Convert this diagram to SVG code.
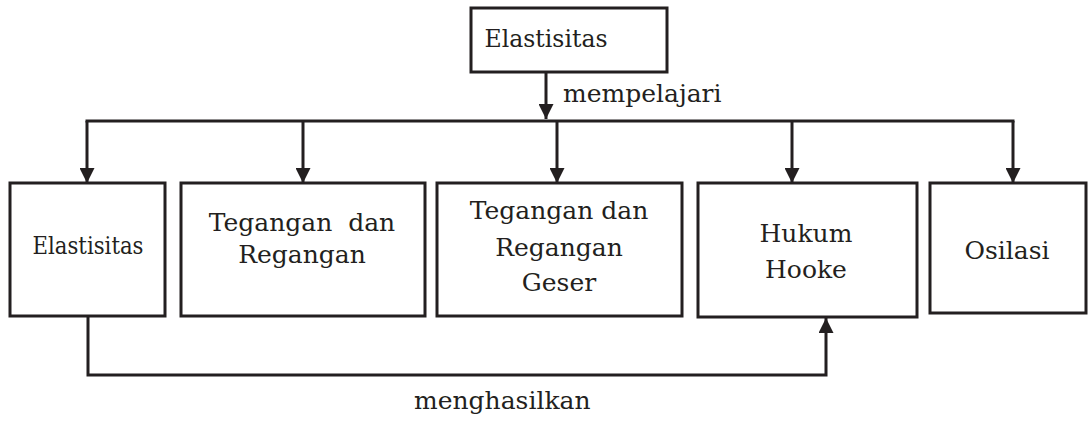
<svg xmlns="http://www.w3.org/2000/svg" width="1088" height="421" viewBox="0 0 1088 421">
<defs>
<style>
.box{fill:#fff;stroke:#231f20;stroke-width:3}
.ln{fill:none;stroke:#231f20;stroke-width:3}
.t{font-family:"DejaVu Serif","Liberation Serif",serif;font-size:25px;fill:#231f20;text-anchor:middle}
.lbl{font-family:"DejaVu Serif","Liberation Serif",serif;font-size:25px;fill:#231f20}
</style>
<marker id="ah" viewBox="0 0 10 10" refX="10" refY="5" markerWidth="5" markerHeight="5" markerUnits="strokeWidth" orient="auto">
<path d="M0,0 L10,5 L0,10 z" fill="#231f20"/>
</marker>
</defs>
<g id="connectors">
<line class="ln" x1="546" y1="72" x2="546" y2="119" marker-end="url(#ah)"/>
<line class="ln" x1="85.5" y1="121" x2="1014.5" y2="121"/>
<line class="ln" x1="87" y1="121" x2="87" y2="183" marker-end="url(#ah)"/>
<line class="ln" x1="303" y1="121" x2="303" y2="183" marker-end="url(#ah)"/>
<line class="ln" x1="557" y1="121" x2="557" y2="183" marker-end="url(#ah)"/>
<line class="ln" x1="792" y1="121" x2="792" y2="183" marker-end="url(#ah)"/>
<line class="ln" x1="1013" y1="121" x2="1013" y2="183" marker-end="url(#ah)"/>
<polyline class="ln" points="88,316 88,375 826,375 826,318" marker-end="url(#ah)"/>
<text class="lbl" x="563" y="102">mempelajari</text>
<text class="lbl" x="414" y="409">menghasilkan</text>
</g>
<g id="n0"><rect class="box" x="471" y="8" width="196" height="64"/><text class="t" x="546" y="47" textLength="123" lengthAdjust="spacingAndGlyphs">Elastisitas</text></g>
<g id="n1"><rect class="box" x="10" y="183" width="155" height="133"/><text class="t" x="88" y="254" textLength="111" lengthAdjust="spacingAndGlyphs">Elastisitas</text></g>
<g id="n2"><rect class="box" x="181" y="183" width="244" height="133"/><text class="t" x="302" y="231" xml:space="preserve">Tegangan  dan</text><text class="t" x="302" y="263">Regangan</text></g>
<g id="n3"><rect class="box" x="437" y="183" width="245" height="133"/><text class="t" x="559" y="219">Tegangan dan</text><text class="t" x="559" y="256">Regangan</text><text class="t" x="559" y="291">Geser</text></g>
<g id="n4"><rect class="box" x="698" y="183" width="219" height="134"/><text class="t" x="806" y="242">Hukum</text><text class="t" x="806" y="278">Hooke</text></g>
<g id="n5"><rect class="box" x="930" y="183" width="156" height="130"/><text class="t" x="1007" y="259">Osilasi</text></g>
</svg>
